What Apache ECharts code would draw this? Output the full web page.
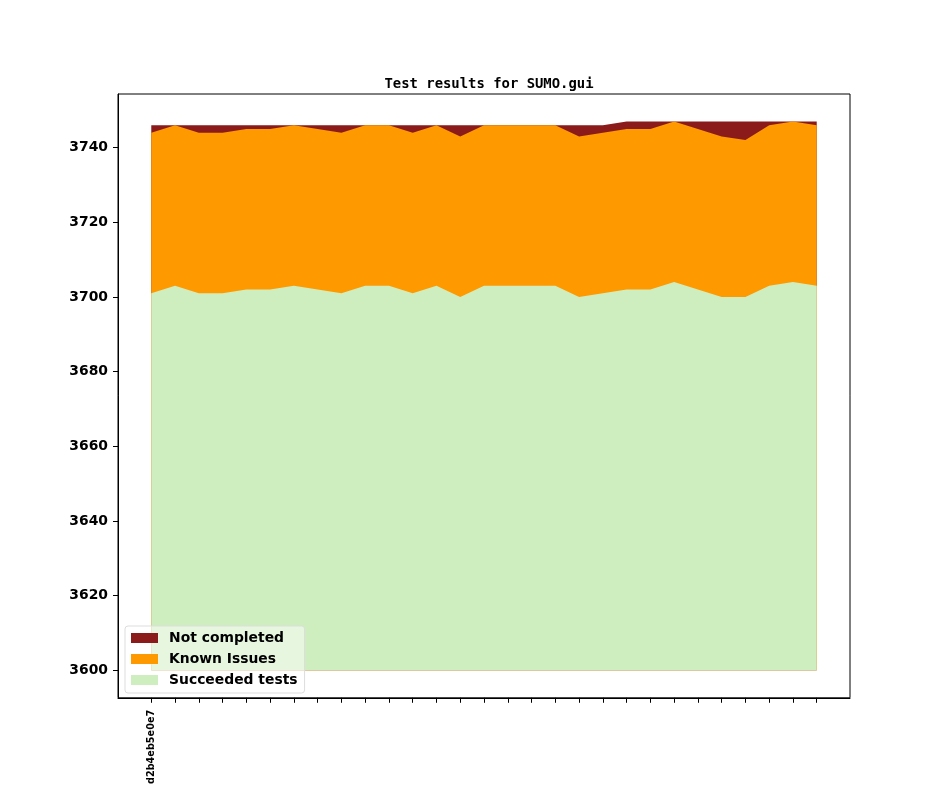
<!DOCTYPE html>
<html>
<head>
<meta charset="utf-8">
<script src="https://cdn.jsdelivr.net/npm/echarts@6/dist/echarts.min.js"></script>
<style>html,body{margin:0;padding:0;background:#fff}#c{width:944px;height:787px}</style>
</head>
<body>
<div id="c"></div>
<script>
const categories = ['d2b4eb5e0e7','','','','','','','','','','','','','','','','','','','','','','','','','','','',''];
const succeeded = [3701,3703,3701,3701,3702,3702,3703,3702,3701,3703,3703,3701,3703,3700,3703,3703,3703,3703,3700,3701,3702,3702,3704,3702,3700,3700,3703,3704,3703];
const knownIssues = [43,43,43,43,43,43,43,43,43,43,43,43,43,43,43,43,43,43,43,43,43,43,43,43,43,42,43,43,43];
const notCompleted = [2,0,2,2,1,1,0,1,2,0,0,2,0,3,0,0,0,0,3,2,2,2,0,2,4,5,1,0,1];
const yTicks = [3600,3620,3640,3660,3680,3700,3720,3740];

const chart = echarts.init(document.getElementById('c'), null, {renderer:'canvas'});
// cumulative tops of the stack (drawn back to front so each layer covers the one below)
const knownTop = succeeded.map((v,i) => v + knownIssues[i]);
const totalTop = knownTop.map((v,i) => v + notCompleted[i]);
const pairs = arr => arr.map((v,i) => [i, v]);
const xTicks = categories.map((c,i) => i);
const font = 'DejaVu Sans';

function layer(name, arr, color) {
  return {name, type: 'line', data: pairs(arr), symbol: 'none', silent: true,
    lineStyle: {width: 0}, itemStyle: {color}, areaStyle: {color, opacity: 1, origin: 3600}};
}

chart.setOption({
  animation: false,
  backgroundColor: '#ffffff',
  title: {
    text: 'Test results for SUMO.gui',
    left: 484, top: 72, textAlign: 'center',
    textStyle: {fontFamily: 'DejaVu Sans Mono', fontWeight: 'bold', fontSize: 13.9, color: '#000'}
  },
  grid: {left: 118, right: 94, top: 94, bottom: 87, show: true, borderColor: '#000', borderWidth: 1, backgroundColor: 'transparent'},
  legend: {
    orient: 'vertical', left: 125, top: 626,
    data: ['Not completed','Known Issues','Succeeded tests'],
    icon: 'rect', itemWidth: 27, itemHeight: 10, itemGap: 7,
    padding: [5, 7, 6, 6],
    backgroundColor: 'rgba(255,255,255,0.5)', borderColor: '#dddddd', borderWidth: 1, borderRadius: 3,
    textStyle: {fontFamily: font, fontWeight: 'bold', fontSize: 13.9, color: '#000', lineHeight: 14, padding: [0,0,0,6]}
  },
  xAxis: {
    type: 'value', min: -1.4, max: 29.4,
    splitLine: {show: false},
    axisLine: {show: true, onZero: false, lineStyle: {color: '#000', width: 1}},
    axisTick: {show: true, length: 5, customValues: xTicks, lineStyle: {color: '#000'}},
    axisLabel: {
      customValues: [0], rotate: 90, margin: 12,
      formatter: v => categories[Math.round(v)] || '',
      fontFamily: font, fontWeight: 'bold', fontSize: 9.7, color: '#000'
    }
  },
  yAxis: {
    type: 'value', min: 3592.65, max: 3754.35,
    splitLine: {show: false},
    axisLine: {show: true, onZero: false, lineStyle: {color: '#000', width: 1}},
    axisTick: {show: true, length: 5, customValues: yTicks, lineStyle: {color: '#000'}},
    axisLabel: {customValues: yTicks, margin: 10, formatter: v => String(v),
      fontFamily: font, fontWeight: 'bold', fontSize: 13.9, color: '#000'}
  },
  series: [
    layer('Not completed', totalTop, '#8b1a1a'),
    layer('Known Issues', knownTop, '#ff9900'),
    layer('Succeeded tests', succeeded, '#cfeebf')
  ]
});
</script>
</body>
</html>
